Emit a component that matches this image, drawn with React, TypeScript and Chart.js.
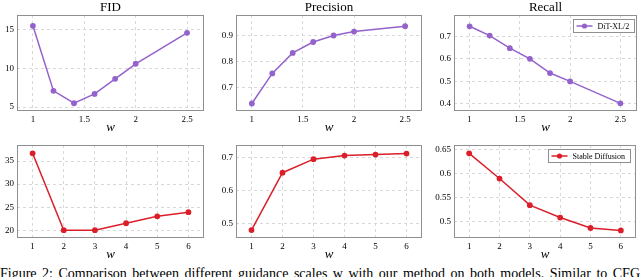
import React, { useEffect, useRef } from 'react';
import { Chart, registerables } from 'chart.js';

Chart.register(...registerables);

// ---- data ----
const ditW = [1, 1.2, 1.4, 1.6, 1.8, 2, 2.5];
const ditFID = [15.5, 7.1, 5.5, 6.7, 8.65, 10.6, 14.6];
const ditPrecision = [0.638, 0.754, 0.833, 0.875, 0.9, 0.915, 0.936];
const ditRecall = [0.744, 0.703, 0.647, 0.6, 0.537, 0.5, 0.403];

const sdW = [1, 2, 3, 4, 5, 6];
const sdFID = [36.7, 20.0, 20.0, 21.5, 23.0, 23.9];
const sdPrecision = [0.479, 0.653, 0.694, 0.705, 0.708, 0.711];
const sdRecall = [0.643, 0.59, 0.534, 0.508, 0.486, 0.481];

const ditXTicks = [1, 1.5, 2, 2.5];
const sdXTicks = [1, 2, 3, 4, 5, 6];
const ditFIDTicks = [5, 10, 15];
const ditPrecisionTicks = [0.7, 0.8, 0.9];
const ditRecallTicks = [0.4, 0.5, 0.6, 0.7];
const sdFIDTicks = [20, 25, 30, 35];
const sdPrecisionTicks = [0.5, 0.6, 0.7];
const sdRecallTicks = [0.5, 0.55, 0.6, 0.65];

const titles = ['FID', 'Precision', 'Recall'];
const ditLabel = 'DiT-XL/2';
const sdLabel = 'Stable Diffusion';
const xLabel = 'w';
const caption =
  'Figure 2: Comparison between different guidance scales w with our method on both models. Similar to CFG';

const PURPLE = '#9462cc';
const RED = '#db1f2a';
const SERIF = '"Liberation Serif", "Times New Roman", serif';

type Panel = {
  left: number; top: number; width: number; height: number;
  padTop: number; yw: number; padRight: number;
  xs: number[]; ys: number[];
  xMin: number; xMax: number; yMin: number; yMax: number;
  xTicks: number[]; yTicks: number[];
  color: string; title?: string; legend?: string; legendInset?: number;
};

const TOP_X = [0.845, 2.665];
const BOT_X = [0.5, 6.5];

const panels: Panel[] = [
  { left: 0, top: 0, width: 210, height: 135, padTop: 15, yw: 17, padRight: 6,
    xs: ditW, ys: ditFID, xMin: TOP_X[0], xMax: TOP_X[1], yMin: 4.5, yMax: 16.9,
    xTicks: ditXTicks, yTicks: ditFIDTicks, color: PURPLE, title: titles[0] },
  { left: 206, top: 0, width: 222, height: 135, padTop: 15, yw: 30, padRight: 6,
    xs: ditW, ys: ditPrecision, xMin: TOP_X[0], xMax: TOP_X[1], yMin: 0.609, yMax: 0.979,
    xTicks: ditXTicks, yTicks: ditPrecisionTicks, color: PURPLE, title: titles[1] },
  { left: 424, top: 0, width: 217, height: 135, padTop: 15, yw: 30, padRight: 0,
    xs: ditW, ys: ditRecall, xMin: TOP_X[0], xMax: TOP_X[1], yMin: 0.369, yMax: 0.794,
    xTicks: ditXTicks, yTicks: ditRecallTicks, color: PURPLE, title: titles[2],
    legend: ditLabel, legendInset: 3 },
  { left: 0, top: 135, width: 210, height: 127, padTop: 10, yw: 17, padRight: 6,
    xs: sdW, ys: sdFID, xMin: BOT_X[0], xMax: BOT_X[1], yMin: 18.3, yMax: 38.5,
    xTicks: sdXTicks, yTicks: sdFIDTicks, color: RED },
  { left: 206, top: 135, width: 222, height: 127, padTop: 10, yw: 30, padRight: 6,
    xs: sdW, ys: sdPrecision, xMin: BOT_X[0], xMax: BOT_X[1], yMin: 0.455, yMax: 0.737,
    xTicks: sdXTicks, yTicks: sdPrecisionTicks, color: RED },
  { left: 424, top: 135, width: 216, height: 127, padTop: 10, yw: 30, padRight: 2,
    xs: sdW, ys: sdRecall, xMin: BOT_X[0], xMax: BOT_X[1], yMin: 0.465, yMax: 0.6605,
    xTicks: sdXTicks, yTicks: sdRecallTicks, color: RED, legend: sdLabel, legendInset: 6 },
];

const decorPlugin = {
  id: 'decor',
  afterDraw(chart: any, _args: any, opts: any) {
    const { ctx, chartArea: a } = chart;
    ctx.save();
    // box
    ctx.strokeStyle = '#8f8f8f';
    ctx.lineWidth = 1;
    ctx.setLineDash([]);
    ctx.strokeRect(Math.round(a.left) + 0.5, Math.round(a.top) + 0.5,
      Math.round(a.right - a.left) - 1, Math.round(a.bottom - a.top) - 1);
    // title
    ctx.fillStyle = '#000';
    if (opts.title) {
      ctx.font = `13px ${SERIF}`;
      ctx.textAlign = 'center';
      ctx.textBaseline = 'alphabetic';
      ctx.fillText(opts.title, (a.left + a.right) / 2, a.top - 4);
    }
    // x label
    ctx.font = `italic 13px ${SERIF}`;
    ctx.textAlign = 'center';
    ctx.textBaseline = 'alphabetic';
    ctx.fillText(xLabel, (a.left + a.right) / 2, a.bottom + 20);
    // legend
    if (opts.legend) {
      ctx.font = `8px ${SERIF}`;
      const tw = ctx.measureText(opts.legend).width;
      const bw = Math.round(3 + 16 + 5 + tw + 5);
      const bh = 13;
      const bx = Math.round(a.right - opts.inset - bw) + 0.5;
      const by = Math.round(a.top + 4) + 0.5;
      ctx.fillStyle = '#fff';
      ctx.fillRect(bx, by, bw, bh);
      ctx.strokeStyle = '#8f8f8f';
      ctx.strokeRect(bx, by, bw, bh);
      const cy = by + bh / 2;
      ctx.strokeStyle = opts.color;
      ctx.lineWidth = 1.5;
      ctx.beginPath();
      ctx.moveTo(bx + 3, cy);
      ctx.lineTo(bx + 19, cy);
      ctx.stroke();
      ctx.fillStyle = opts.color;
      ctx.beginPath();
      ctx.arc(bx + 11, cy, 2.6, 0, Math.PI * 2);
      ctx.fill();
      ctx.fillStyle = '#000';
      ctx.textAlign = 'left';
      ctx.textBaseline = 'middle';
      ctx.fillText(opts.legend, bx + 24, cy + 0.5);
    }
    ctx.restore();
  },
};

function fmt(v: number) {
  return String(Number(v.toFixed(4)));
}

function PanelChart({ p }: { p: Panel }) {
  const ref = useRef<HTMLCanvasElement | null>(null);
  useEffect(() => {
    if (!ref.current) return;
    const chart = new Chart(ref.current, {
      type: 'line',
      data: {
        datasets: [
          {
            data: p.xs.map((x, i) => ({ x, y: p.ys[i] })),
            borderColor: p.color,
            backgroundColor: p.color,
            borderWidth: 1.5,
            pointRadius: 2.9,
            pointBorderWidth: 0,
            pointBackgroundColor: p.color,
            tension: 0,
          },
        ],
      },
      plugins: [decorPlugin],
      options: {
        animation: false,
        responsive: false,
        devicePixelRatio: 1,
        layout: { padding: { top: p.padTop, right: p.padRight, left: 0, bottom: 0 } },
        plugins: {
          legend: { display: false },
          tooltip: { enabled: false },
          title: { display: false },
          decor: { title: p.title, legend: p.legend, inset: p.legendInset ?? 5, color: p.color },
        } as any,
        scales: {
          x: {
            type: 'linear',
            min: p.xMin,
            max: p.xMax,
            afterBuildTicks: (s: any) => { s.ticks = p.xTicks.map((v) => ({ value: v })); },
            afterFit: (s: any) => { s.height = 24; },
            grid: { color: '#d8d8d8', drawTicks: false, lineWidth: 1 },
            border: { display: false, dash: [3, 3] },
            ticks: {
              autoSkip: false, maxRotation: 0, padding: 3, color: '#000',
              font: { family: SERIF, size: 9 },
              callback: (v: any) => fmt(Number(v)),
            },
          },
          y: {
            type: 'linear',
            min: p.yMin,
            max: p.yMax,
            afterBuildTicks: (s: any) => { s.ticks = p.yTicks.map((v) => ({ value: v })); },
            afterFit: (s: any) => { s.width = p.yw; },
            grid: { color: '#d8d8d8', drawTicks: false, lineWidth: 1 },
            border: { display: false, dash: [3, 3] },
            ticks: {
              autoSkip: false, padding: 3, color: '#000',
              font: { family: SERIF, size: 9 },
              callback: (v: any) => fmt(Number(v)),
            },
          },
        },
      } as any,
    });
    return () => chart.destroy();
  }, [p]);
  return (
    <canvas
      ref={ref}
      width={p.width}
      height={p.height}
      style={{ position: 'absolute', left: p.left, top: p.top, width: p.width, height: p.height }}
    />
  );
}

export default function App() {
  useEffect(() => {
    document.body.style.margin = '0';
  }, []);
  return (
    <div style={{ position: 'relative', width: 640, height: 277, overflow: 'hidden', background: '#fff' }}>
      {panels.map((p, i) => (
        <PanelChart key={i} p={p} />
      ))}
      <div
        style={{
          position: 'absolute', left: 0, top: 267, width: 640,
          fontFamily: SERIF, fontSize: 14, lineHeight: '14px',
          textAlign: 'justify', textAlignLast: 'justify' as any, whiteSpace: 'nowrap',
          color: '#000',
        }}
      >
        {caption}
      </div>
    </div>
  );
}
